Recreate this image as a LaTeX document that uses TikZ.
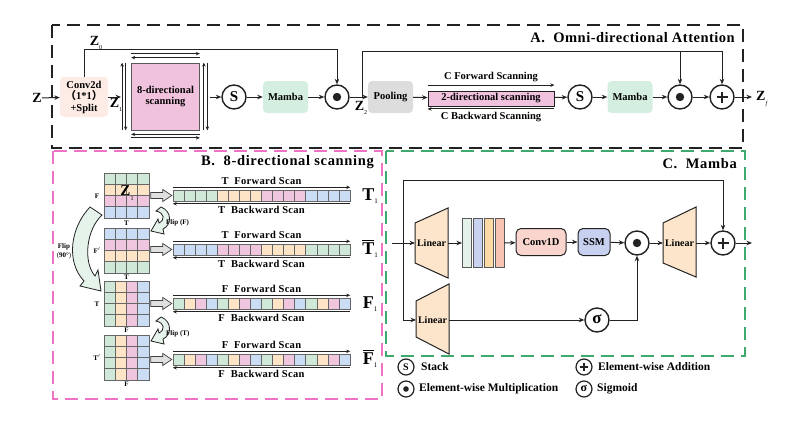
\documentclass[tikz,border=0pt]{standalone}
\usepackage{fontspec}
\setmainfont{Liberation Serif}
\newfontfamily\cjk{Noto Sans CJK SC}
\usetikzlibrary{arrows.meta,calc}
\definecolor{cg}{HTML}{CFE8D7}
\definecolor{co}{HTML}{FDE4C6}
\definecolor{cp}{HTML}{F0C6DF}
\definecolor{cb}{HTML}{CADDF4}
\definecolor{convfill}{HTML}{FDEBE6}
\definecolor{pinkbox}{HTML}{F1C2DD}
\definecolor{mambag}{HTML}{D4EEDF}
\definecolor{poolg}{HTML}{DDDDDD}
\definecolor{trap}{HTML}{FDE5CC}
\definecolor{c1dfill}{HTML}{F9D5CD}
\definecolor{ssmfill}{HTML}{C8D0EF}
\definecolor{bar1}{HTML}{E5F2E9}
\definecolor{bar2}{HTML}{C9D3EF}
\definecolor{bar3}{HTML}{FBDAA5}
\definecolor{bar4}{HTML}{F8C4B2}
\definecolor{frpink}{HTML}{EE73C4}
\definecolor{frgreen}{HTML}{3FAA6E}
\definecolor{flipf}{HTML}{E6F3EB}
\definecolor{ink}{HTML}{222222}
\tikzset{
  ln/.style={line width=1pt, draw=ink},
  arr/.style={ln, -{Stealth[length=5.5pt,width=4.5pt]}},
  sarr/.style={line width=0.9pt, draw=ink, -{Stealth[length=4pt,width=3.5pt]}},
  frame/.style={line width=1.8pt, dash pattern=on 13pt off 7pt},
  op/.style={circle, draw=ink, line width=1.4pt, minimum size=24pt, inner sep=0pt, fill=white},
  dotop/.style={op, path picture={\fill[ink] (path picture bounding box.center) circle (4.2pt);}},
  plusop/.style={op, path picture={\draw[line width=2.2pt,ink] ([xshift=-5.5pt]path picture bounding box.center) -- ([xshift=5.5pt]path picture bounding box.center) ([yshift=-5.5pt]path picture bounding box.center) -- ([yshift=5.5pt]path picture bounding box.center);}},
  sop/.style={op, font=\bfseries\fontsize{15}{15}\selectfont},
  lop/.style={circle, draw=ink, line width=1.2pt, minimum size=16pt, inner sep=0pt, fill=white},
  ldot/.style={lop, path picture={\fill[ink] (path picture bounding box.center) circle (2.8pt);}},
  lplus/.style={lop, path picture={\draw[line width=1.6pt,ink] ([xshift=-3.8pt]path picture bounding box.center) -- ([xshift=3.8pt]path picture bounding box.center) ([yshift=-3.8pt]path picture bounding box.center) -- ([yshift=3.8pt]path picture bounding box.center);}},
  blk/.style={rounded corners=4pt, minimum width=45pt, minimum height=32pt, inner sep=0pt, align=center, font=\bfseries\fontsize{10.5}{11.5}\selectfont},
  cell/.style={draw=black!60, line width=0.6pt},
  hollow/.style={draw=black!75, fill=black!12, line width=0.7pt},
  fliparr/.style={draw=ink, fill=flipf, line width=0.8pt},
  trapz/.style={draw=ink, fill=trap, line width=1pt},
  txt/.style={font=\bfseries\fontsize{10.5}{11}\selectfont, inner sep=0pt},
  ttl/.style={inner sep=0pt, font=\bfseries\fontsize{14.5}{15}\selectfont\addfontfeature{LetterSpace=4.5}},
  scan/.style={inner sep=0pt, font=\bfseries\fontsize{10.5}{11}\selectfont\addfontfeature{LetterSpace=3}},
  leg/.style={inner sep=0pt, anchor=west, font=\bfseries\fontsize{11.5}{12}\selectfont},
  small/.style={font=\bfseries\fontsize{7}{8}\selectfont, inner sep=0pt},
}
\newcommand{\zl}[2]{\textbf{#1}\raisebox{-0.3em}{\fontsize{6}{6}\selectfont\mdseries #2}}
\newcommand{\biglab}[1]{{\fontsize{18}{18}\selectfont\bfseries #1}\raisebox{-0.3em}{\fontsize{7}{7}\selectfont 1}}
\newcommand{\ovl}[1]{\setbox0\hbox{\fontsize{18}{18}\selectfont\bfseries #1}\rlap{\raisebox{\dimexpr\ht0+1.5pt\relax}{\rule{\wd0}{1pt}}}\box0\raisebox{-0.3em}{\fontsize{7}{7}\selectfont 1}}
\begin{document}
\begin{tikzpicture}[x=1pt,y=-1pt]
\useasboundingbox (0,0) rectangle (797,423);

% ---------- frames ----------
\draw[frame, draw=frpink] (53,151) rectangle (382,399);
\draw[frame, draw=frgreen] (386,151) rectangle (745,356);
\draw[frame, draw=ink] (52,25) rectangle (743,148);

% ---------- A ----------
\node[ttl, font=\bfseries\fontsize{14.5}{15}\selectfont\addfontfeature{LetterSpace=3.5}, anchor=east] (titA) at (735,38) {A.\ \ Omni-directional Attention};
\node[font=\bfseries\fontsize{14}{14}\selectfont, inner sep=0pt] (zin) at (37,98) {Z};
\node[blk, fill=convfill, minimum width=48pt, minimum height=40pt] (conv) at (84,97) {Conv2d\\{\cjk （}1*1{\cjk ）}\\+Split};
\node[blk, fill=pinkbox, draw=black!65, line width=0.7pt, rounded corners=0pt, minimum width=68pt, minimum height=67pt] (dir8) at (165.5,96.5) {8-directional\\scanning};
\node[sop] (s1) at (234,97) {S};
\node[blk, fill=mambag] (mamba1) at (285.5,97) {Mamba};
\node[dotop] (dot1) at (337,97) {};
\node[blk, fill=poolg] (pool) at (390.5,97) {Pooling};
\node[blk, fill=pinkbox, draw=ink, line width=0.8pt, rounded corners=0pt, minimum width=126pt, minimum height=15pt] (dir2) at (491,98.5) {2-directional scanning};
\node[sop] (s2) at (580,97) {S};
\node[blk, fill=mambag] (mamba2) at (630,97) {Mamba};
\node[dotop] (dot2) at (680,97) {};
\node[plusop] (plus1) at (722,97) {};
\node[font=\fontsize{14}{14}\selectfont, inner sep=0pt, anchor=west] (zf) at (756,99) {\zl{Z}{\itshape f}};

\coordinate (dir8in) at (121,97);
\coordinate (dir8out) at (210,97);
\coordinate (z2) at (362,97);
\coordinate (z2top) at (362,51);
\coordinate (zfend) at (752,97);

\draw[arr] (zin) -- (conv);
\draw[arr] (conv) -- (dir8in);
\draw[arr] (dir8out) -- (s1);
\draw[arr] (s1) -- (mamba1);
\draw[arr] (mamba1) -- (dot1);
\draw[arr] (conv.north) -- ++(0,-27) -| (dot1.north);
\draw[arr] (dot1) -- (pool);
\draw[arr] (pool) -- (dir2);
\draw[arr] (dir2) -- (s2);
\draw[arr] (s2) -- (mamba2);
\draw[arr] (mamba2) -- (dot2);
\draw[arr] (dot2) -- (plus1);
\draw[arr] (plus1) -- (zfend);
\draw[ln] (z2) -- (z2top);
\draw[arr] (z2top) -| (plus1.north);
\draw[arr] (dot2.north |- z2top) -- (dot2.north);

\node[font=\fontsize{14}{14}\selectfont, inner sep=0pt] (z0l) at (96,43) {\zl{Z}{0}};
\node[font=\fontsize{14}{14}\selectfont, inner sep=0pt] (z1l) at (116,105) {\zl{Z}{1}};
\node[font=\fontsize{14}{14}\selectfont, inner sep=0pt] (z2l) at (361,108) {\zl{Z}{2}};

% double arrows around 8-directional box
\draw[sarr] ($(dir8.north west)+(0,-9)$) -- ($(dir8.north east)+(0,-9)$);
\draw[sarr] ($(dir8.north east)+(0,-5)$) -- ($(dir8.north west)+(0,-5)$);
\draw[sarr] ($(dir8.south west)+(-9,0)$) -- ($(dir8.north west)+(-9,0)$);
\draw[sarr] ($(dir8.north west)+(-5.5,0)$) -- ($(dir8.south west)+(-5.5,0)$);
\draw[sarr] ($(dir8.south east)+(4,0)$) -- ($(dir8.north east)+(4,0)$);
\draw[sarr] ($(dir8.north east)+(7.5,0)$) -- ($(dir8.south east)+(7.5,0)$);
\draw[sarr] ($(dir8.south east)+(0,4)$) -- ($(dir8.south west)+(0,4)$);
\draw[sarr] ($(dir8.south west)+(0,7.5)$) -- ($(dir8.south east)+(0,7.5)$);

% scanning arrows of 2-directional box
\draw[sarr] ($(dir2.north west)+(0,-5.5)$) -- ($(dir2.north east)+(0,-5.5)$);
\draw[sarr] ($(dir2.south east)+(0,2.5)$) -- ($(dir2.south west)+(0,2.5)$);
\node[txt] (cf) at (491,77) {C Forward Scanning};
\node[txt] (cbk) at (491,117.5) {C Backward Scanning};

% ---------- B ----------
\node[ttl, anchor=east] (titB) at (374,162) {B.\ \ 8-directional scanning};

% grid 1 (rows)
\foreach \c [count=\r from 0] in {cg,co,cp,cb}
  \foreach \k in {0,...,3}
    \filldraw[cell, fill=\c] ({104+\k*11.25},{173+\r*11.25}) rectangle ++(11.25,11.25);
% grid 2 (rows)
\foreach \c [count=\r from 0] in {cb,cp,co,cg}
  \foreach \k in {0,...,3}
    \filldraw[cell, fill=\c] ({104+\k*11.25},{228+\r*11.25}) rectangle ++(11.25,11.25);
% grid 3 and 4 (columns)
\foreach \gy in {281,335}
  \foreach \c [count=\k from 0] in {cg,co,cp,cb}
    \foreach \r in {0,...,3}
      \filldraw[cell, fill=\c] ({104+\k*11.25},{\gy+\r*11.25}) rectangle ++(11.25,11.25);

\node[inner sep=0pt, minimum size=45pt] (g1) at (126.5,195.5) {};
\node[inner sep=0pt, minimum size=45pt] (g2) at (126.5,250.5) {};
\node[inner sep=0pt, minimum size=45pt] (g3) at (126.5,303.5) {};
\node[inner sep=0pt, minimum size=45pt] (g4) at (126.5,357.5) {};
\node[font=\fontsize{15}{15}\selectfont, inner sep=0pt] (z1g) at (127,193) {\zl{Z}{1}};

\node[small] (g1l) at (97,196) {F};
\node[small] (g1b) at (126.5,223) {T};
\node[small] (g2l) at (97,251) {F$'$};
\node[small] (g2b) at (126.5,277) {T};
\node[small] (g3l) at (97,304) {T};
\node[small] (g3b) at (126.5,330) {F};
\node[small] (g4l) at (97,358) {T$'$};
\node[small] (g4b) at (126.5,384) {F};

% strips
\foreach \sy/\lst in {195.5/{cg,cg,cg,cg,co,co,co,co,cp,cp,cp,cp,cb,cb,cb,cb},
                      249.5/{cb,cb,cb,cb,cp,cp,cp,cp,co,co,co,co,cg,cg,cg,cg},
                      303.5/{cg,co,cp,cb,cg,co,cp,cb,cg,co,cp,cb,cg,co,cp,cb},
                      359.5/{cg,co,cp,cb,cg,co,cp,cb,cg,co,cp,cb,cg,co,cp,cb}}
  \foreach \c [count=\i from 0] in \lst
    \filldraw[cell, fill=\c] ({173+\i*11.0625},{\sy-5.5}) rectangle ++(11.0625,11);

\node[inner sep=0pt, minimum width=177pt, minimum height=11pt] (st1) at (261.5,195.5) {};
\node[inner sep=0pt, minimum width=177pt, minimum height=11pt] (st2) at (261.5,249.5) {};
\node[inner sep=0pt, minimum width=177pt, minimum height=11pt] (st3) at (261.5,303.5) {};
\node[inner sep=0pt, minimum width=177pt, minimum height=11pt] (st4) at (261.5,359.5) {};

\foreach \s/\g/\lt in {st1/g1/T, st2/g2/T, st3/g3/F, st4/g4/F} {
  \draw[sarr] ($(\s.north west)+(0,-2.5)$) -- ($(\s.north east)+(0,-2.5)$);
  \draw[sarr] ($(\s.south east)+(0,2.5)$) -- ($(\s.south west)+(0,2.5)$);
  \node[scan] at ($(\s.north)+(0,-8.5)$) {\lt\ \ Forward Scan};
  \node[scan] at ($(\s.south)+(0,8.5)$) {\lt\ \ Backward Scan};
  \filldraw[hollow] ($(\s.west)+(-22,-3)$) -- ++(12,0) -- ++(0,-3) -- ++(9,6) -- ++(-9,6) -- ++(0,-3) -- ++(-12,0) -- cycle;
}

\node[inner sep=0pt] (T1) at (370,196) {\biglab{T}};
\node[inner sep=0pt] (T1b) at (370,249) {\ovl{T}};
\node[inner sep=0pt] (F1) at (370,304) {\biglab{F}};
\node[inner sep=0pt] (F1b) at (370,359) {\ovl{F}};

% flip arrows
\filldraw[fliparr] (90,207) .. controls (70,228) and (66,262) .. (84,281) -- (80,286) -- (101,291) -- (98,270) -- (95,276) .. controls (83,262) and (86,230) .. (102,215) -- cycle;
\node[small, align=center] (flip90) at (64,251) {Flip\\[1pt]{\mdseries(}90°{\mdseries)}};
\filldraw[fliparr] (161,207) .. controls (172,211) and (172,225) .. (163,229) -- (164,234) -- (151,231) -- (158,219) -- (159,223) .. controls (165,220) and (165,213) .. (156,211) -- cycle;
\node[small, anchor=west] (flipF) at (166,223) {Flip (F)};
\begin{scope}[shift={(0,110)}]
\filldraw[fliparr] (161,207) .. controls (172,211) and (172,225) .. (163,229) -- (164,234) -- (151,231) -- (158,219) -- (159,223) .. controls (165,220) and (165,213) .. (156,211) -- cycle;
\end{scope}
\node[small, anchor=west] (flipT) at (166,334) {Flip (T)};

% ---------- C ----------
\node[ttl, anchor=east] (titC) at (737,164) {C.\ \ Mamba};

\filldraw[trapz] (415,223) -- (448,208) -- (448,278) -- (415,263) -- cycle;
\filldraw[trapz] (416,301) -- (449,284) -- (449,354) -- (416,337) -- cycle;
\filldraw[trapz] (663,223) -- (696,207) -- (696,277) -- (663,263) -- cycle;
\node[txt, font=\bfseries\fontsize{10}{10}\selectfont] (lin1) at (431.5,243) {Linear};
\node[txt, font=\bfseries\fontsize{10}{10}\selectfont] (lin2) at (432.5,320) {Linear};
\node[txt, font=\bfseries\fontsize{10}{10}\selectfont] (lin3) at (679.5,243) {Linear};
\coordinate (lin1w) at (415,243);
\coordinate (lin1e) at (448,243);
\coordinate (lin2w) at (416,320);
\coordinate (lin2e) at (449,320);
\coordinate (lin3w) at (663,243);
\coordinate (lin3e) at (696,243);

\foreach \c [count=\i from 0] in {bar1,bar2,bar3,bar4}
  \filldraw[draw=black!65, line width=0.7pt, fill=\c] ({462+\i*11},218) rectangle ++(9,49);
\coordinate (barsw) at (462,243);
\coordinate (barse) at (504,243);

\node[blk, fill=c1dfill, draw=ink, line width=1pt, rounded corners=5pt, minimum width=50pt, minimum height=27pt] (c1d) at (541,242) {Conv1D};
\node[blk, fill=ssmfill, draw=ink, line width=1pt, rounded corners=5pt, minimum width=32pt, minimum height=27pt] (ssm) at (594,242) {SSM};
\node[dotop] (dot3) at (637,243) {};
\node[plusop] (plus2) at (723,243) {};
\node[op, font=\bfseries\fontsize{17}{17}\selectfont] (sig) at (597,320) {\raisebox{1pt}{σ}};

\coordinate (cin) at (392,243);
\coordinate (ctop) at (403,180);
\coordinate (cout) at (752,243);

\draw[arr] (cin) -- (lin1w);
\draw[arr] (ctop) -| (plus2.north);
\draw[arr] (ctop) |- (lin2w);
\draw[arr] (lin1e) -- (barsw);
\draw[arr] (barse) -- (c1d);
\draw[arr] (c1d) -- (ssm);
\draw[arr] (ssm) -- (dot3);
\draw[arr] (dot3) -- (lin3w);
\draw[arr] (lin3e) -- (plus2);
\draw[arr] (plus2) -- (cout);
\draw[arr] (lin2e) -- (sig);
\draw[arr] (sig) -| (dot3.south);

% ---------- legend ----------
\node[lop, font=\bfseries\fontsize{10}{10}\selectfont] (ls) at (406,367) {S};
\node[ldot] (ld) at (406,389) {};
\node[lplus] (lp) at (584,367) {};
\node[lop, font=\bfseries\fontsize{12}{12}\selectfont] (lsig) at (584,389) {\raisebox{1pt}{σ}};
\node[leg] at (421,367) {Stack};
\node[leg] at (419,389) {Element-wise Multiplication};
\node[leg] at (598,367) {Element-wise Addition};
\node[leg] at (597,389) {Sigmoid};
\end{tikzpicture}
\end{document}
